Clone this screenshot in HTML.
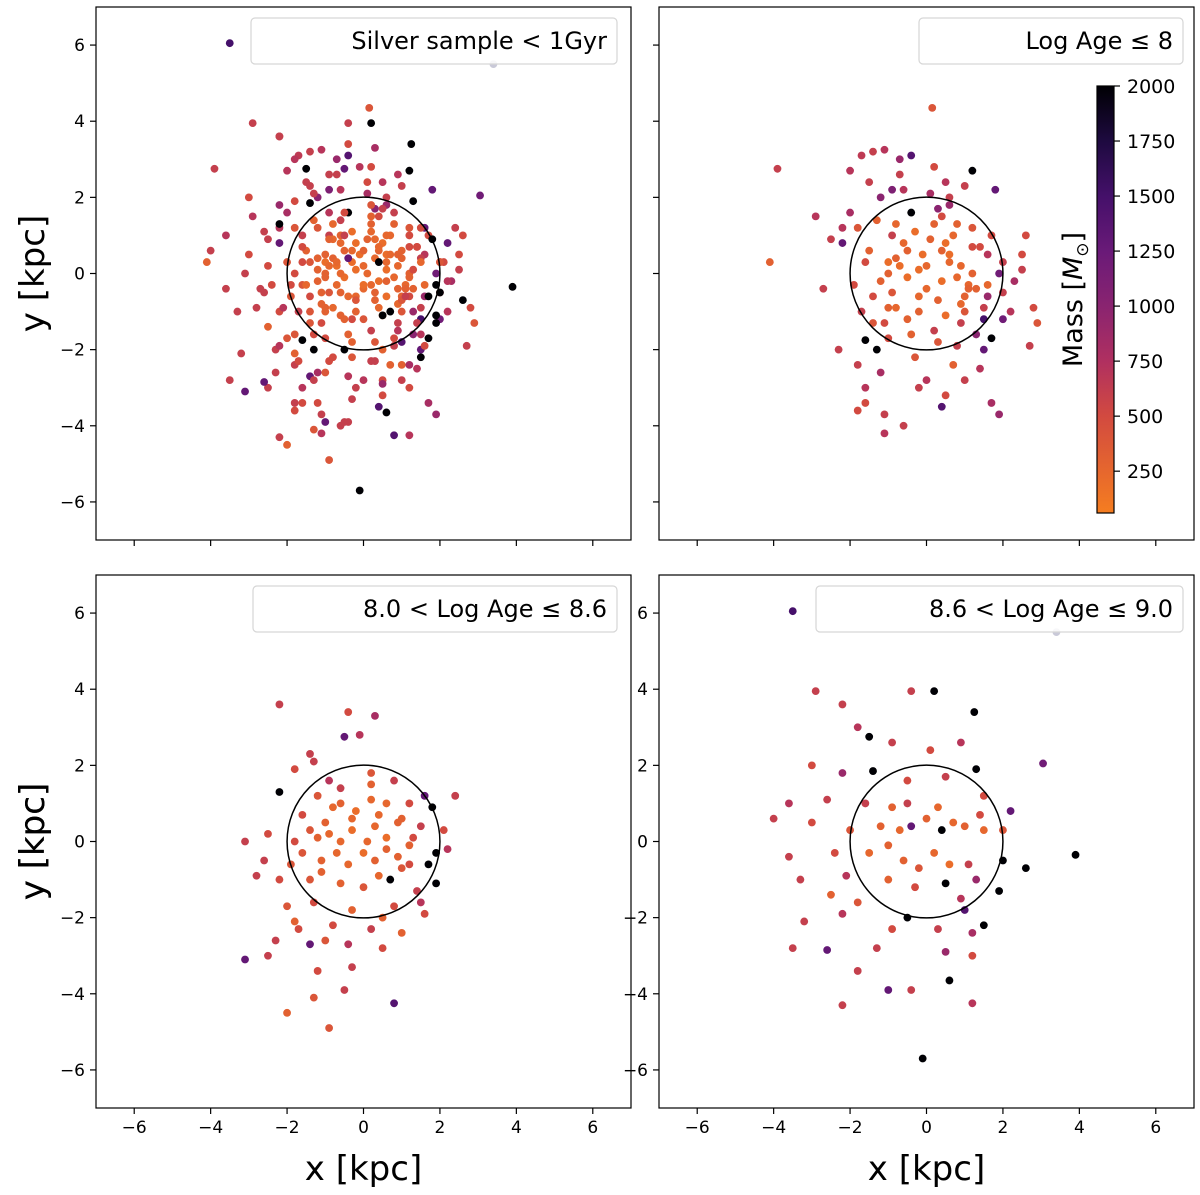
<!DOCTYPE html>
<html><head><meta charset="utf-8">
<style>
html,body{margin:0;padding:0;background:#fff;}
svg{display:block;font-family:"DejaVu Sans","Liberation Sans",sans-serif;}
</style></head>
<body>
<svg id="fig" width="1200" height="1195" viewBox="0 0 1200 1195" xmlns="http://www.w3.org/2000/svg">
<defs>
<linearGradient id="cmap" x1="0" y1="1" x2="0" y2="0">
<stop offset="0" stop-color="#f57d20"/>
<stop offset="0.227" stop-color="#d24a40"/>
<stop offset="0.355" stop-color="#b03060"/>
<stop offset="0.483" stop-color="#8a2470"/>
<stop offset="0.612" stop-color="#6a1a78"/>
<stop offset="0.74" stop-color="#45106a"/>
<stop offset="0.87" stop-color="#1e0a40"/>
<stop offset="1" stop-color="#000004"/>
</linearGradient>
</defs>
</svg>
<script>
// ---- data (x kpc, y kpc, mass Msun) per age bin ----
const binA_x=[0.15,-3.9,-4.1,-2.2,-1.7,-1.4,-1.1,-0.7,-0.4,-0.7,0.2,0.5,1.2,1.0,-1.5,-1.2,-2.0,-2.2,-2.5,-0.4,0.3,0.6,0.4,0.8,-0.9,-0.5,0.1,0.5,1.2,1.6,2.0,2.5,-1.6,-1.0,-0.5,0,0.4,0.8,1.2,1.6,2.0,-1.4,-0.9,-0.2,0.3,1.0,1.5,2.2,-1.7,-1.1,-0.5,0.2,0.9,1.3,1.7,2.0,2.9,-1.6,-1.3,-1.8,-1.2,-1.6,-1.8,-1.6,-1.1,-1.1,-0.6,0.4,1.4,1.7,1.9,1.5,-0.3,0.7,2.3,2.5,-0.2,0.6,-1.0,1.1,-0.8,0.9,
 -1.8,-1.3,-0.8,-0.3,0.2,0.7,1.2,1.7,-1.5,-1.0,-0.6,-0.1,0.4,0.9,1.4,1.9,-1.9,-1.2,-0.7,0.0,0.6,1.1,1.6,-1.4,-0.8,-0.2,0.5,1.0,1.5,-1.0,-0.4,0.3,0.8,1.3,-0.6,0.1,0.6,-2.7,-2.9,2.7,2.8,-0.9,0.0,1.0,-2.3,2.6,-2.0,1.8,-0.2,0.5];
const binA_y=[4.35,2.75,0.3,0.8,3.1,3.2,3.25,3.0,3.1,2.6,2.8,2.4,2.7,2.3,2.4,2.0,1.6,1.2,0.9,1.6,1.7,1.8,1.5,1.3,1.0,0.6,0.9,0.8,0.7,0.5,0.3,0.5,0.3,0.0,-0.1,0.2,-0.2,-0.1,0.0,-0.3,-0.5,-0.6,-0.5,-0.6,-0.7,-0.6,-0.9,-1.0,-1.0,-1.3,-1.2,-1.5,-1.3,-1.6,-1.7,-1.2,-1.3,-1.75,-2.0,-2.4,-2.6,-3.0,-3.6,-3.4,-3.7,-4.2,-4.0,-3.5,-2.5,-3.4,-3.7,-2.0,-2.2,-2.4,-0.2,0.1,0.1,0.3,-0.9,-0.3,0.4,-0.8,
 1.2,1.4,1.3,1.1,1.3,1.0,1.2,1.0,0.6,0.3,0.8,0.5,0.6,0.2,0.7,0.0,-0.3,-0.2,0.2,-0.4,0.5,-0.4,-0.6,-1.3,-0.9,-1.0,-1.1,-1.0,-1.2,-1.7,-1.6,-1.8,-1.9,-0.4,2.2,2.1,2.0,-0.4,1.5,-1.9,-0.9,2.2,-2.8,-2.8,-2.0,1.0,2.7,2.2,-3.0,-3.2];
const binA_m=[400,600,300,1300,650,600,700,900,1400,600,500,700,2000,600,600,1000,800,700,600,2000,1000,900,500,300,600,300,300,200,500,700,600,500,500,300,200,250,200,250,300,250,600,500,400,250,300,300,600,700,600,500,300,600,600,1000,2000,1200,400,2000,2000,600,800,700,500,500,600,700,600,1400,700,800,900,1300,400,300,800,600,200,250,300,250,300,250,
 400,300,250,200,300,250,400,500,300,200,250,200,300,250,500,1200,500,300,200,250,200,300,900,400,250,300,200,400,1500,500,300,400,600,300,700,800,600,600,700,600,500,1100,700,600,600,500,700,1300,600,500];
const binB_x=[-2.2,-0.4,0.3,-0.5,-0.1,-1.4,-1.3,-1.8,-2.2,-0.9,0.2,0.8,1.6,2.4,-1.2,-0.6,0.2,0.6,1.2,1.8,-1.6,-1.0,-0.3,0.3,0.9,1.5,2.1,-3.1,-2.5,-1.8,-1.2,-0.6,0.1,0.6,1.2,1.9,-2.6,-1.9,-1.1,-0.4,0.3,1.0,1.7,-2.2,-1.4,-0.6,0.0,0.7,1.4,1.9,-2.0,-1.3,-0.3,0.8,1.5,-1.8,-0.8,0.2,1.0,-2.3,-1.4,-0.4,0.5,-3.1,-2.5,-1.2,-0.3,0.8,-1.3,-2.0,-0.9,-0.5,
 -0.8,-0.2,0.4,1.0,-1.4,-0.9,-0.3,0.6,1.3,-0.7,0.0,0.9,-1.6,-1.1,0.4,-0.6,0.2,1.2,-2.8,-1.7,2.2,-1.0,0.5,1.6];
const binB_y=[3.6,3.4,3.3,2.75,2.8,2.3,2.1,1.9,1.3,1.6,1.8,1.6,1.2,1.2,1.2,1.0,1.1,1.0,1.0,0.9,0.7,0.5,0.6,0.4,0.5,0.4,0.3,0.0,0.2,0.0,0.1,0.0,0.0,0.1,-0.1,-0.3,-0.5,-0.6,-0.5,-0.6,-0.5,-0.7,-0.6,-1.0,-1.0,-1.1,-1.2,-1.0,-1.3,-1.1,-1.7,-1.6,-1.8,-1.7,-1.6,-2.1,-2.2,-2.3,-2.4,-2.6,-2.7,-2.7,-2.8,-3.1,-3.0,-3.4,-3.3,-4.25,-4.1,-4.5,-4.9,-3.9,
 0.9,0.8,0.7,0.6,0.3,0.2,0.3,-0.2,0.1,-0.3,-0.3,-0.4,-0.3,-0.8,-0.9,1.4,1.5,-0.6,-0.9,-2.3,-0.2,-2.6,-2.0,-1.9];
const binB_m=[600,500,800,1300,700,600,600,500,2000,700,400,600,1300,600,400,300,250,250,500,2000,500,300,250,250,300,600,500,600,500,500,300,250,250,200,300,2000,600,400,300,250,300,400,2000,500,400,300,400,2000,600,2000,400,500,300,500,700,300,500,600,300,600,1300,700,500,1300,600,500,600,1400,400,300,400,600,
 250,200,250,300,400,250,200,300,500,250,200,300,400,300,250,600,300,500,600,500,700,400,300,500];
const binC_x=[-3.5,-2.9,-2.2,-0.4,0.2,1.25,-1.8,-1.5,-0.9,0.1,0.9,-3.0,-2.2,-1.4,-0.5,0.5,1.3,3.05,-3.6,-2.6,-1.6,-0.9,0.3,1.5,2.2,-4.0,-3.0,-2.0,-1.2,-0.4,0.4,1.0,1.5,2.0,-3.6,-2.4,-1.5,-0.6,0.2,1.1,2.0,3.9,-3.3,-2.1,-1.0,-0.3,0.5,1.3,1.9,2.6,-2.5,-1.8,-0.5,1.0,1.5,-3.2,-2.2,-0.9,0.3,1.2,-2.6,-1.3,0.5,1.2,-1.8,0.6,-1.0,-0.4,1.2,-2.2,-0.1,-3.5,
 -0.7,0.0,0.7,-0.2,0.6,-1.0,1.4,-0.5,0.9];
const binC_y=[6.05,3.95,3.6,3.95,3.95,3.4,3.0,2.75,2.6,2.4,2.6,2.0,1.8,1.85,1.6,1.7,1.9,2.05,1.0,1.1,1.0,0.9,0.9,1.2,0.8,0.6,0.5,0.3,0.4,0.4,0.3,0.4,0.3,0.3,-0.4,-0.3,-0.3,-0.5,-0.3,-0.6,-0.5,-0.35,-1.0,-0.9,-1.0,-1.2,-1.1,-1.0,-1.3,-0.7,-1.4,-1.6,-2.0,-1.8,-2.2,-2.1,-1.9,-2.3,-2.3,-2.4,-2.85,-2.8,-2.9,-3.0,-3.4,-3.65,-3.9,-3.9,-4.25,-4.3,-5.7,-2.8,
 0.3,0.6,0.5,-0.7,-0.6,-0.1,0.7,1.0,-1.5];
const binC_m=[1500,600,600,600,2000,2000,700,2000,600,500,700,500,900,2000,500,600,2000,1200,700,600,600,300,250,500,1300,600,500,400,300,1300,2000,300,250,400,600,500,250,300,250,600,2000,2000,600,700,300,500,2000,900,2000,2000,300,400,2000,1400,2000,600,700,500,600,800,1300,600,900,500,600,2000,1300,600,700,600,2000,600,
 250,300,250,400,200,300,500,600,700];
const faint_x=[3.4], faint_y=[5.5];
const xTicks=[-6,-4,-2,0,2,4,6];
const yTicks=[-6,-4,-2,0,2,4,6];
const cbTicks=[250,500,750,1000,1250,1500,1750,2000];

const NS="http://www.w3.org/2000/svg";
const svg=document.getElementById('fig');
function mk(tag,attrs,parent){const e=document.createElementNS(NS,tag);for(const k in attrs)e.setAttribute(k,attrs[k]);(parent||svg).appendChild(e);return e;}

const stops=[[60,[245,125,32]],[500,[210,74,64]],[750,[176,48,96]],[1000,[138,36,112]],[1250,[106,26,120]],[1500,[69,16,106]],[1750,[30,10,64]],[2000,[0,0,4]]];
function cmap(m){m=Math.max(60,Math.min(2000,m));for(let i=0;i<stops.length-1;i++){const a=stops[i],b=stops[i+1];if(m<=b[0]){const t=(m-a[0])/(b[0]-a[0]);const c=a[1].map((v,j)=>Math.round(v+(b[1][j]-v)*t));return `rgb(${c[0]},${c[1]},${c[2]})`;}}return 'rgb(0,0,4)';}

const panels=[
 {name:'all-young',x0:96,y0:7,title:'Silver sample < 1Gyr',lx:251,lw:366,xl:false,yl:true,bins:[[binA_x,binA_y,binA_m],[binB_x,binB_y,binB_m],[binC_x,binC_y,binC_m]],faint:true},
 {name:'logage-le-8',x0:659,y0:7,title:'Log Age  \u2264  8',lx:919,lw:264,xl:false,yl:false,bins:[[binA_x,binA_y,binA_m]],faint:false},
 {name:'logage-8-8.6',x0:96,y0:575,title:'8.0 < Log Age  \u2264  8.6',lx:253,lw:364,xl:true,yl:true,bins:[[binB_x,binB_y,binB_m]],faint:false},
 {name:'logage-8.6-9',x0:659,y0:575,title:'8.6 < Log Age  \u2264  9.0',lx:816,lw:367,xl:true,yl:true,bins:[[binC_x,binC_y,binC_m]],faint:true}
];
const W=535,H=533;
panels.forEach(p=>{
 const g=mk('g',{});
 
 
 const sx=v=>p.x0+(v+7)/14*W, sy=v=>p.y0+(7-v)/14*H;
 const ppu=W/14;
 const pts=mk('g',{},g);
 
 
 if(p.faint){faint_x.forEach((x,i)=>{const c=mk('circle',{cx:sx(x),cy:sy(faint_y[i]),r:3.9,fill:'#c9c9d8'},pts);});}
 p.bins.forEach(b=>{b[0].forEach((x,i)=>{const c=mk('circle',{cx:sx(x),cy:sy(b[1][i]),r:3.9,fill:cmap(b[2][i])},pts);});});
 const ci=mk('circle',{cx:sx(0),cy:sy(0),r:2*ppu,fill:'none',stroke:'#000','stroke-width':1.5},g);
 
 
 const fr=mk('rect',{x:p.x0,y:p.y0,width:W,height:H,fill:'none',stroke:'#000','stroke-width':1.2},g);
 
 
 xTicks.forEach(t=>{mk('line',{x1:sx(t),x2:sx(t),y1:p.y0+H,y2:p.y0+H+6,stroke:'#000','stroke-width':1.2},g);
  if(p.xl){const tx=mk('text',{x:sx(t),y:p.y0+H+25,'font-size':17,'text-anchor':'middle'},g);tx.textContent=(t<0?'\u2212'+(-t):t);}});
 yTicks.forEach(t=>{mk('line',{x1:p.x0-6,x2:p.x0,y1:sy(t),y2:sy(t),stroke:'#000','stroke-width':1.2},g);
  if(p.yl){const tx=mk('text',{x:p.x0-11,y:sy(t)+6,'font-size':17,'text-anchor':'end'},g);tx.textContent=(t<0?'\u2212'+(-t):t);}});
 const lg=mk('rect',{x:p.lx,y:p.y0+11,width:p.lw,height:46,rx:4,fill:'#fff','fill-opacity':0.85,stroke:'#d6d6d6','stroke-width':1.2},g);
 
 
 const lt=mk('text',{x:p.lx+p.lw-10,y:p.y0+42,'font-size':24,'text-anchor':'end','xml:space':'preserve'},g);
 lt.textContent=p.title;
 
 
 if(p.yl){const yt=mk('text',{x:0,y:0,'font-size':34,'text-anchor':'middle',transform:`translate(44,${p.y0+H/2}) rotate(-90)`},g);yt.textContent='y [kpc]';}
 if(p.xl){const xt=mk('text',{x:sx(0),y:1180,'font-size':34,'text-anchor':'middle'},g);xt.textContent='x [kpc]';}
});
const cb=mk('g',{});


const cbx=1097,cbw=17,cbt=86,cbb=513,cmin=60,cmax=2000;
const cy=v=>cbb-(v-cmin)/(cmax-cmin)*(cbb-cbt);
mk('rect',{x:cbx,y:cbt,width:cbw,height:cbb-cbt,fill:'url(#cmap)',stroke:'#000','stroke-width':1.2},cb);
cbTicks.forEach(t=>{mk('line',{x1:cbx+cbw,x2:cbx+cbw+6,y1:cy(t),y2:cy(t),stroke:'#000','stroke-width':1.2},cb);
 const tx=mk('text',{x:cbx+cbw+13,y:cy(t)+7,'font-size':19},cb);tx.textContent=t;});
const cl=mk('text',{x:0,y:0,'font-size':27,'text-anchor':'middle',transform:`translate(1082,${(cbt+cbb)/2}) rotate(-90)`},cb);
cl.innerHTML='Mass [<tspan font-style="italic">M</tspan><tspan font-size="17" dy="6">\u2299</tspan><tspan dy="-6">]</tspan>';


</script>
</body></html>
